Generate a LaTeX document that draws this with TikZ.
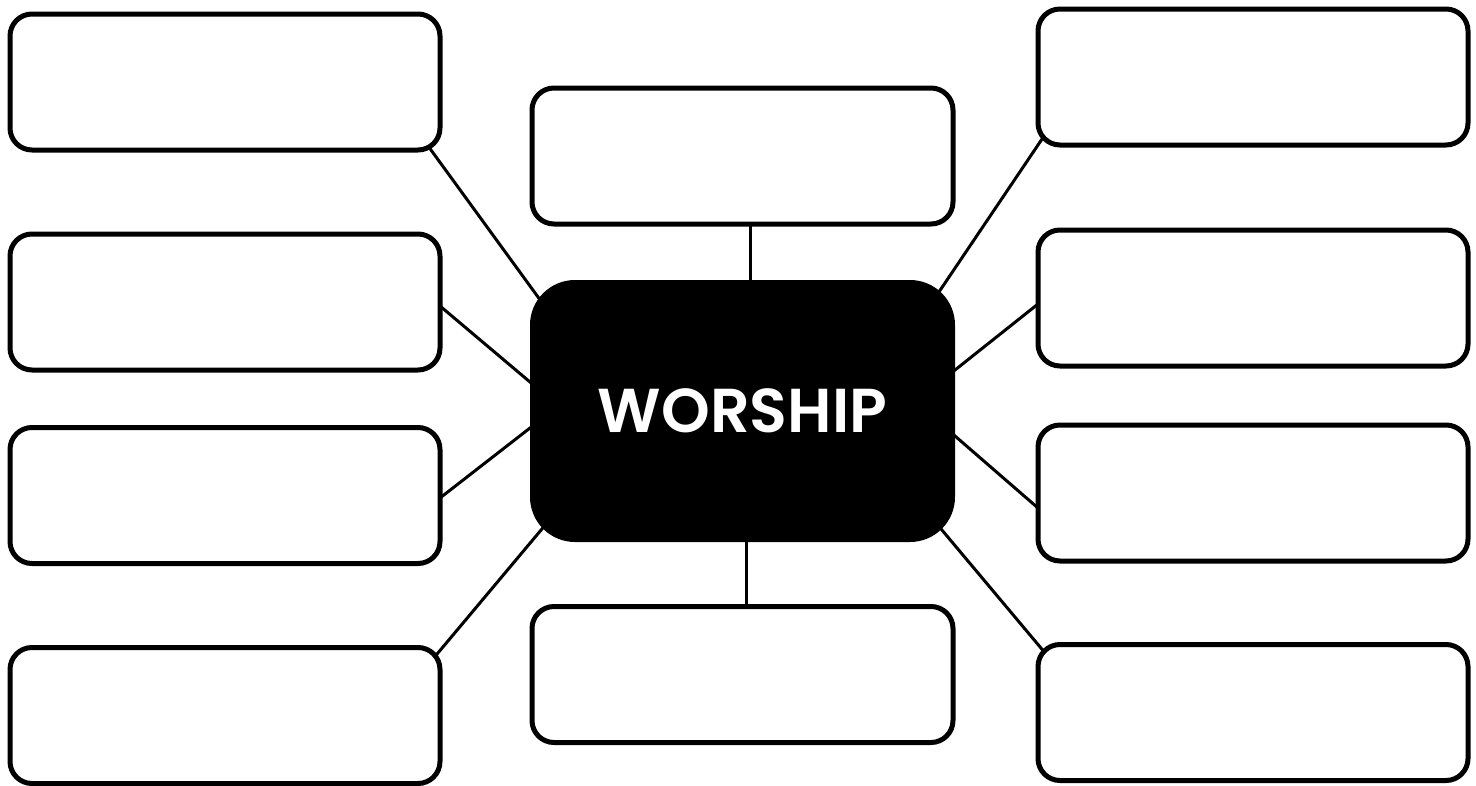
\documentclass[tikz,border=0pt]{standalone}
\usepackage{fontspec}
\setmainfont{Poppins}
\newfontfamily\hubfont{Poppins SemiBold}
\usetikzlibrary{backgrounds}

\begin{document}
\begin{tikzpicture}[x=1pt, y=-1pt,
    box node/.style={rectangle, rounded corners=22pt, draw, line width=5pt, fill=white, minimum width=430pt, minimum height=136pt, inner sep=0pt, outer sep=0pt},
    hub node/.style={rectangle, rounded corners=45pt, fill=black, text=white, minimum width=425pt, minimum height=262pt, inner sep=0pt, outer sep=0pt, font=\hubfont\fontsize{62}{62}\selectfont},
    link/.style={line width=3pt, shorten >=-25pt, shorten <=-25pt}]

        \useasboundingbox (0,0) rectangle (1476,785);

        \node[hub node] (worship) at (742.5,411) {WORSHIP};

        \node[box node] (1) at (225,82) {};
        \node[box node] (2) at (225,302) {};
        \node[box node] (3) at (225,495.5) {};
        \node[box node] (4) at (225,715.5) {};

        \node[box node, minimum width=421pt] (5) at (742.5,156) {};
        \node[box node, minimum width=421pt] (6) at (742.5,674.5) {};

        \node[box node] (7) at (1253,77) {};
        \node[box node] (8) at (1253,298) {};
        \node[box node] (9) at (1253,493) {};
        \node[box node] (10) at (1253,712.5) {};

        \begin{pgfonlayer}{background}
        \path[link]
        ([xshift=-9pt]1.south east) edge ([yshift=-6pt]worship.north west)
        ([yshift=-4pt]2.east) edge ([yshift=29pt]worship.west)
        ([yshift=-2.5pt]3.east) edge ([yshift=-17pt]worship.west)
        ([yshift=-3pt]4.north east) edge ([xshift=1pt]worship.south west)

        ([xshift=7.5pt]5.south) edge ([xshift=7.5pt]worship.north)
        ([xshift=3.5pt]6.north) edge ([xshift=3.5pt]worship.south)

        (7.south west) edge ([xshift=-8pt]worship.north east)
        ([yshift=-6pt]8.west) edge ([yshift=41pt]worship.east)
        ([yshift=-15pt]9.west) edge ([yshift=-25pt]worship.east)
        (10.north west) edge ([xshift=-3pt]worship.south east)
        ;
        \end{pgfonlayer}
    \end{tikzpicture}
\end{document}
